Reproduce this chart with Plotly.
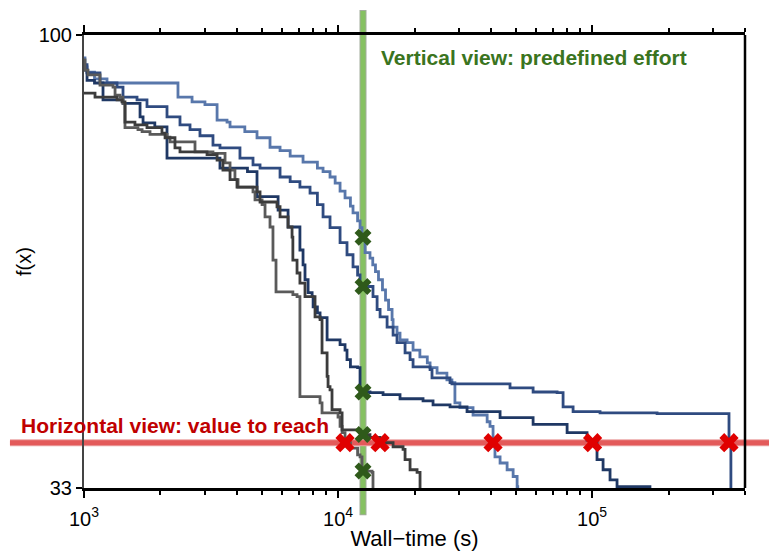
import math
import plotly.graph_objects as go

# Best objective value found so far (f(x)) against wall-time in seconds, one step trace per run
t_run1 = [1000, 1009, 1028, 1100, 1232, 2344, 2663, 2993, 3341, 3656, 3757, 4296, 4798, 5398, 5912,
          6479, 7282, 8294, 8730, 9300, 9742, 10186, 10656, 11190, 11455, 11940, 12209, 12430, 12780, 13360,
          13700, 14040, 14430, 14960, 15380, 15810, 16320, 16470, 17070, 17540, 18700, 19740, 21000, 22460, 23030,
          24540, 26830, 28080, 28850, 30190, 34000, 38640, 39650, 40760, 41480, 43440, 46300, 48900, 50700, 51000]
f_run1 = [96.6, 95.3, 94.5, 93.5, 92.9, 90.8, 90.1, 89.7, 87.4, 87.1, 86.4, 85.7, 84.8, 83.4, 82.9,
          82.1, 81.2, 80.3, 79.8, 79.0, 78.1, 76.9, 75.9, 74.7, 73.7, 72.5, 71.5, 70.1, 67.8, 67.0,
          66.0, 65.0, 63.8, 62.3, 60.8, 59.4, 57.9, 56.8, 55.9, 54.9, 54.5, 53.4, 52.4, 51.5, 50.8,
          50.0, 49.0, 48.6, 45.6, 44.9, 43.8, 42.8, 42.1, 39.7, 37.6, 36.7, 35.7, 34.7, 33.2, 33.0]

t_run2 = [1000, 1028, 1156, 1349, 1424, 1617, 1770, 2122, 2387, 2614, 2861, 3219, 3430, 4111, 4627, 4931,
          5912, 6479, 7080, 7759, 8294, 8730, 9300, 10186, 10847, 11455, 11940, 12209, 13730, 14250, 14640,
          15600, 16470, 17070, 18360, 19210, 19740, 23030, 23440, 27600, 28080, 47540, 58600, 72840, 76900,
          84200, 107500, 180300, 346000, 352000]
f_run2 = [95.6, 94.4, 92.9, 92.3, 90.8, 90.4, 89.4, 87.9, 86.7, 86.0, 85.1, 83.7, 83.3, 81.8, 80.8, 80.3,
          79.0, 78.3, 77.5, 76.6, 74.9, 73.1, 71.5, 69.3, 67.5, 65.7, 64.5, 62.8, 61.3, 59.4, 58.3,
          56.8, 55.6, 54.5, 53.0, 52.0, 50.9, 50.5, 49.3, 48.6, 48.4, 47.8, 47.2, 47.1, 45.0,
          44.3, 44.1, 44.0, 39.7, 33.0]

t_run3 = [1000, 1028, 1100, 1188, 1424, 1662, 1708, 1900, 2122, 3430, 4400, 4798, 5808, 6358, 7080,
          7282, 7413, 7623, 7907, 7979, 8294, 8496, 9056, 10186, 10656, 10847, 11190, 11940, 12209, 13360,
          15040, 17540, 21610, 23660, 27600, 32200, 43440, 58600, 79750, 95540, 100500, 104600, 110500,
          117700, 125400, 169000]
f_run3 = [94.8, 93.3, 92.9, 90.4, 89.9, 87.9, 87.0, 86.4, 81.8, 80.3, 79.8, 76.1, 74.1, 71.6, 68.2,
          66.0, 63.8, 61.9, 61.3, 59.8, 58.9, 58.2, 54.9, 54.2, 53.4, 52.0, 50.9, 50.8, 47.2, 47.1,
          46.8, 46.2, 45.9, 45.3, 45.0, 44.3, 43.4, 42.4, 41.2, 40.1, 39.7, 37.2, 35.7,
          34.2, 33.2, 33.0]

t_run4 = [1000, 1009, 1037, 1156, 1301, 1325, 1386, 1424, 1450, 1631, 1693, 1819, 2122, 2180, 2735,
          3219, 3591, 3757, 3928, 4040, 4627, 4712, 5023, 5160, 5398, 5545, 5700, 6641, 6897, 7080,
          8496, 8650, 10000, 10186, 10375, 10656, 11190, 11940, 12209, 12430, 13610, 13730]
f_run4 = [96.3, 94.8, 94.1, 92.6, 92.3, 91.1, 90.8, 89.9, 86.3, 86.0, 85.7, 85.3, 84.9, 84.2, 82.7,
          82.5, 81.1, 80.0, 78.6, 77.5, 76.8, 75.6, 74.9, 73.1, 71.6, 66.7, 62.0, 61.6, 61.3, 46.5,
          45.6, 44.1, 43.5, 42.1, 41.2, 39.7, 38.9, 37.9, 37.6, 35.5, 35.3, 33.0]

t_run5 = [1000, 1105, 1349, 1411, 1450, 1587, 1770, 2027, 2085, 2281, 2387, 3050, 3341, 3523, 3757,
          4002, 4798, 4931, 5751, 5912, 6358, 6592, 6641, 6897, 7080, 7413, 8118, 8496, 8650, 9056,
          9136, 9300, 9469, 10186, 10375, 12209, 12430, 13360, 14640, 16470, 18030, 18360, 19210, 20470, 21030]
f_run5 = [91.4, 90.8, 90.4, 90.1, 87.1, 86.7, 86.3, 85.5, 84.8, 83.3, 82.7, 82.3, 81.5, 80.0, 78.6,
          77.5, 76.8, 75.3, 74.6, 73.1, 71.6, 70.1, 66.7, 64.8, 63.3, 61.3, 58.3, 57.9, 53.0, 49.5,
          48.0, 47.5, 44.6, 44.1, 41.6, 41.2, 40.9, 40.5, 39.7, 39.1, 38.7, 37.2, 35.7, 35.3, 33.0]

run_colors = ["#5877ab", "#2f4b80", "#1f3864", "#5a5a5a", "#3c3c3c"]

EFFORT = 12541   # fixed wall-time budget (s)
TARGET = 39.7    # objective value to reach

x_ticks = [1e3, 1e4, 1e5]
x_ticktext = ["10<sup>3</sup>", "10<sup>4</sup>", "10<sup>5</sup>"]
x_minor = [m * 10 ** k for k in (3, 4) for m in range(2, 10)] + [2e5, 3e5, 4e5]
y_ticks = [33, 100]

runs = [(t_run1, f_run1), (t_run2, f_run2), (t_run3, f_run3), (t_run4, f_run4), (t_run5, f_run5)]


def value_at(ts, fs, t):
    """Best value reached by time t (step function)."""
    v = fs[0]
    for ti, fi in zip(ts, fs):
        if ti <= t:
            v = fi
    return v


def time_to_reach(ts, fs, target):
    """First time at which the run reaches target."""
    for ti, fi in zip(ts, fs):
        if fi <= target + 1e-9:
            return ti
    return None


fig = go.Figure()

for (ts, fs), col in zip(runs, run_colors):
    fig.add_trace(go.Scatter(x=ts, y=fs, mode="lines", line=dict(color=col, width=2.8, shape="hv"),
                             hoverinfo="skip"))

# fixed-budget view: values reached at EFFORT
fig.add_trace(go.Scatter(
    x=[EFFORT] * len(runs), y=[value_at(ts, fs, EFFORT) for ts, fs in runs],
    mode="markers", marker=dict(symbol="x", size=15, color="#2f5a1a", line=dict(width=0)),
    hoverinfo="skip"))

# fixed-target view: times needed to reach TARGET
hits = [time_to_reach(ts, fs, TARGET) for ts, fs in runs]
fig.add_trace(go.Scatter(
    x=[h for h in hits if h is not None], y=[TARGET] * sum(h is not None for h in hits),
    mode="markers", marker=dict(symbol="x", size=17, color="#e00000", line=dict(width=0)),
    hoverinfo="skip"))

# reference bars, drawn underneath the runs
fig.add_shape(type="line", xref="x", yref="paper", x0=EFFORT, x1=EFFORT, y0=-0.06, y1=1.055,
              line=dict(color="#a3ad9c", width=7), layer="below")
fig.add_shape(type="line", xref="x", yref="paper", x0=EFFORT, x1=EFFORT, y0=-0.058, y1=1.053,
              line=dict(color="#86c162", width=5), layer="below")
fig.add_shape(type="line", xref="paper", yref="y", x0=-0.112, x1=1.1, y0=TARGET, y1=TARGET,
              line=dict(color="#eba5a5", width=7), layer="below")
fig.add_shape(type="line", xref="paper", yref="y", x0=-0.112, x1=1.1, y0=TARGET, y1=TARGET,
              line=dict(color="#e35a5a", width=5), layer="below")

# right frame edge
fig.add_shape(type="line", xref="paper", yref="paper", x0=1, x1=1, y0=0, y1=1,
              line=dict(color="black", width=2.5), layer="above")

fig.add_annotation(text="<b>Vertical view: predefined effort</b>", xref="paper", yref="paper",
                   x=0.447, y=0.951, xanchor="left", yanchor="middle", showarrow=False,
                   font=dict(size=21, color="#3a7420"))
fig.add_annotation(text="<b>Horizontal view: value to reach</b>", xref="paper", yref="paper",
                   x=-0.098, y=0.139, xanchor="left", yanchor="middle", showarrow=False,
                   font=dict(size=21, color="#c00000"))

fig.update_layout(
    width=769, height=551,
    margin=dict(l=84, r=24, t=35, b=63),
    plot_bgcolor="white", paper_bgcolor="white",
    showlegend=False,
    font=dict(family="Liberation Sans, Arial, sans-serif", size=18, color="black"),
    xaxis=dict(
        type="log", range=[3, math.log10(4e5)],
        tickmode="array", tickvals=x_ticks, ticktext=x_ticktext,
        ticks="outside", ticklen=7, tickwidth=2, tickcolor="black",
        minor=dict(tickmode="array", tickvals=x_minor, ticks="outside", ticklen=4,
                   tickwidth=2, tickcolor="black", showgrid=False),
        showline=True, linecolor="black", linewidth=2.5, mirror="allticks",
        showgrid=False, zeroline=False, automargin=False,
        tickfont=dict(size=20), ticklabelstandoff=4,
        title=dict(text="Wall\u2212time (s)", font=dict(size=22), standoff=4),
    ),
    yaxis=dict(
        range=[33, 100],
        tickmode="array", tickvals=y_ticks, ticktext=[str(v) for v in y_ticks],
        ticks="outside", ticklen=6, tickwidth=2, tickcolor="black",
        showline=True, linecolor="#444444", linewidth=2,
        showgrid=False, zeroline=False, automargin=False,
        tickfont=dict(size=20),
        title=dict(text="f(x)", font=dict(size=20), standoff=2),
    ),
)

fig.write_html("out.html")
